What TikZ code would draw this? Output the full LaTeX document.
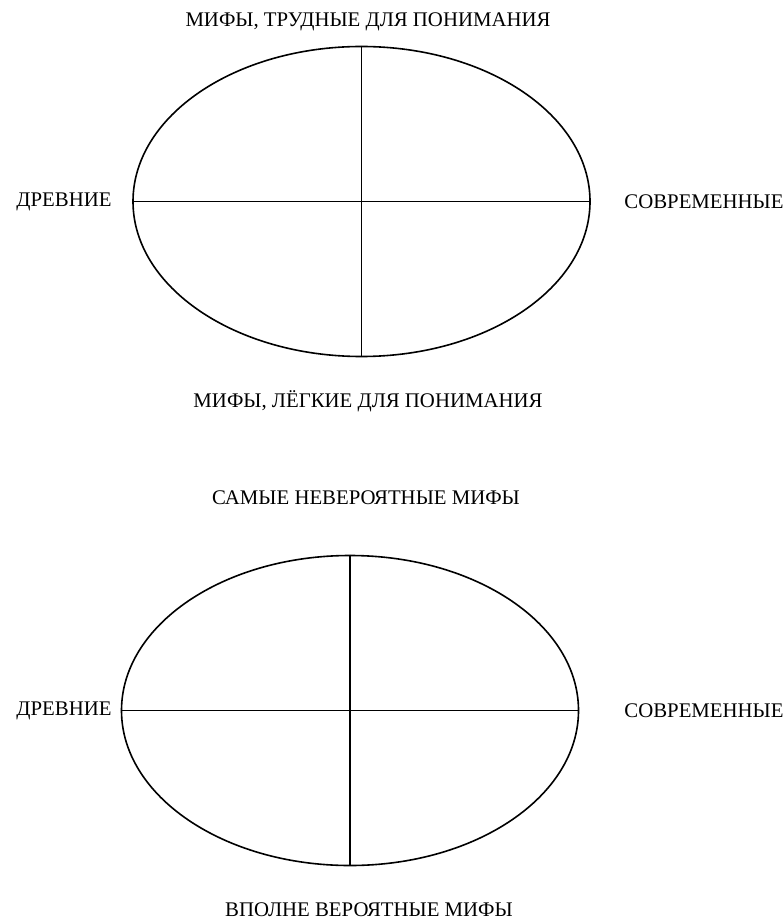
\documentclass[tikz,border=0pt]{standalone}
\usepackage{fontspec}
\setmainfont{Liberation Serif}
\usepackage{tikz}
\usetikzlibrary{shapes.geometric, positioning}
\tikzstyle{quadrant} = [ellipse,
draw=black,
line width=0.8pt,
inner sep=0pt,
minimum width=228.5pt,
minimum height=155pt]
\tikzstyle{label} = [inner sep=0pt,
font=\fontsize{10.4}{12}\selectfont,
text=black]
\tikzstyle{axis} = [line width=0.8pt]

\begin{document}
\begin{tikzpicture}[x=0.5pt, y=-0.5pt]
                \useasboundingbox (0,0) rectangle (783,919);
                % upper diagram
                \node (upper) [quadrant] at (361.5,201.5) {};
                \draw [axis] (upper.west) -- (upper.east);
                \draw [axis] (upper.north) -- (upper.south);
                \node (hard) [label] at (368,22) {МИФЫ, ТРУДНЫЕ ДЛЯ ПОНИМАНИЯ};
                \node (easy) [label] at (368,401) {МИФЫ, ЛЁГКИЕ ДЛЯ ПОНИМАНИЯ};
                \node (oldup) [label] at (64,201.5) {ДРЕВНИЕ};
                \node (newup) [label] at (704,201.5) {СОВРЕМЕННЫЕ};

                % lower diagram
                \node (lower) [quadrant] at (350,710.5) {};
                \draw [axis] (lower.west) -- (lower.east);
                \draw [axis] (lower.north) -- (lower.south);
                \node (unlikely) [label] at (366,498) {САМЫЕ НЕВЕРОЯТНЫЕ МИФЫ};
                \node (likely) [label] at (369,910) {ВПОЛНЕ ВЕРОЯТНЫЕ МИФЫ};
                \node (oldlow) [label] at (64,710.5) {ДРЕВНИЕ};
                \node (newlow) [label] at (704,710.5) {СОВРЕМЕННЫЕ};
            \end{tikzpicture}
\end{document}
